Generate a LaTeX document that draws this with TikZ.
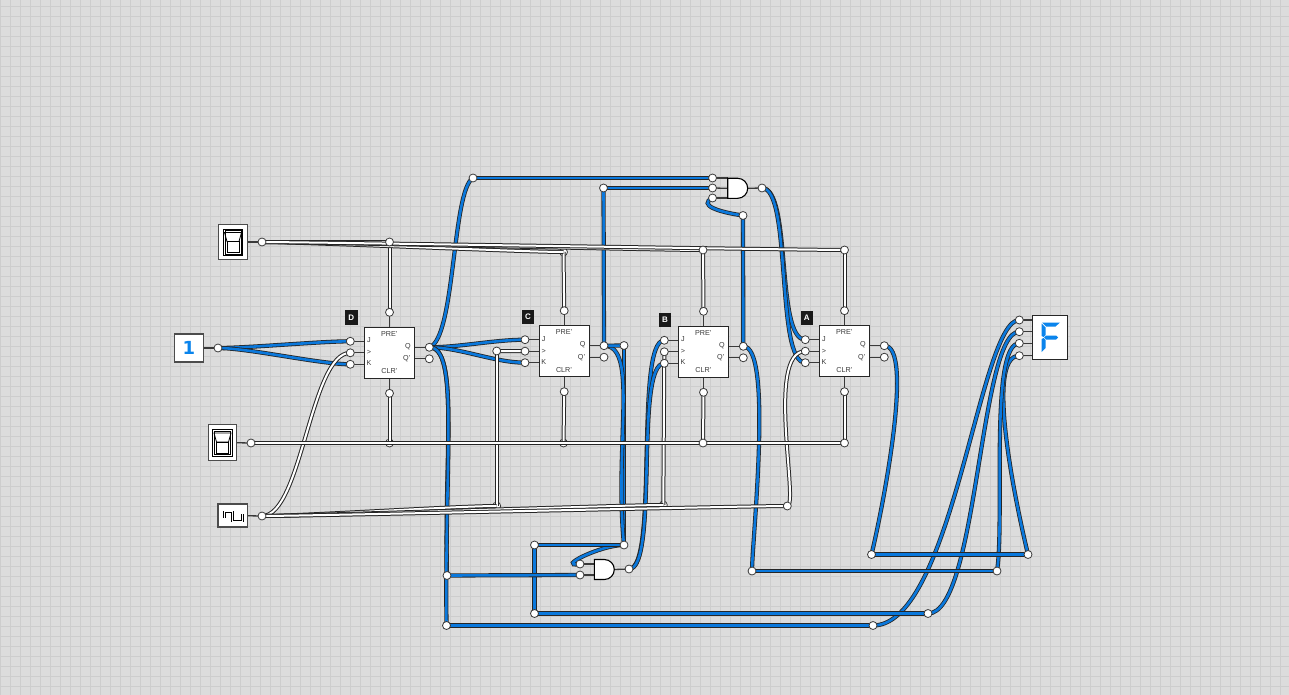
\documentclass[tikz,border=0pt]{standalone}
\usepackage{fontspec}
\setmainfont{Liberation Sans}
\newfontfamily\digitfont{DejaVu Sans}
\usetikzlibrary{positioning}
\pgfdeclarelayer{gridlayer}
\pgfdeclarelayer{lowpins}
\pgfdeclarelayer{wires}
\pgfsetlayers{gridlayer,lowpins,wires,main}
\definecolor{sheet}{HTML}{DCDCDC}
\definecolor{gridgrey}{HTML}{CDCDCD}
\definecolor{wireblue}{HTML}{0A78DC}
\definecolor{segblue}{HTML}{0A84EC}
\definecolor{inkgrey}{HTML}{3A3A3A}
\tikzset{
  gridline/.style={gridgrey, line width=1pt},
  pin/.style={circle, draw=inkgrey, fill=white, line width=.8pt, minimum size=8pt, inner sep=0pt, outer sep=0pt},
  stub/.style={inkgrey, line width=1.3pt},
  bluewire/.style={black!85, line width=.8pt, double=wireblue, double distance=2.6pt},
  whitewire/.style={black!85, line width=1pt, double=white, double distance=2pt},
  ffbox/.style={draw=black!85, fill=white, line width=1pt, minimum width=50pt, minimum height=51pt, anchor=north west, inner sep=0pt, outer sep=0pt},
  iconbox/.style={draw=black!70, fill=white, line width=1.1pt, inner sep=0pt, outer sep=0pt},
  fftext/.style={inkgrey, font=\fontsize{7.2}{8}\selectfont, inner sep=0pt},
  tagbox/.style={fill=black!90, text=white, font=\fontsize{8}{9}\selectfont\bfseries, minimum width=12.5pt, minimum height=14.5pt, inner sep=0pt},
  gatebody/.style={draw=black, fill=white, line width=1.1pt},
  segment/.style={fill=segblue, draw=none},
}
\begin{document}
\begin{tikzpicture}[x=1pt,y=-1pt]
  \useasboundingbox (0,0) rectangle (1289,695);
  \begin{pgfonlayer}{gridlayer}
    \fill[sheet] (0,0) rectangle (1289,695);
    \foreach \gx in {0,...,128} \draw[gridline] (\gx*10+.5,0) -- (\gx*10+.5,695);
    \foreach \gy in {0,...,69} \draw[gridline] (0,\gy*10+6.5) -- (1289,\gy*10+6.5);
  \end{pgfonlayer}

  % flip-flops with their pins and labels
  \foreach \n/\tag/\fx/\fy/\tx/\ty in {d/D/364.3/327.3/351.3/317.5,c/C/539/325.7/528/317,b/B/678.3/326.3/665/320,a/A/819.3/325.7/806.8/318}{
    \node[ffbox] (\n ff) at (\fx,\fy) {};
    \node[tagbox] (\n tag) at (\tx,\ty) {\tag};
    \begin{scope}[shift={(\fx,\fy)}]
      \node[pin] (\n J) at (-14,14) {};
      \node[pin] (\n Ck) at (-14,25.5) {};
      \node[pin] (\n K) at (-14,37) {};
      \node[pin] (\n Q) at (65,20) {};
      \node[pin] (\n Qn) at (65,31.5) {};
      \node[pin] (\n Pre) at (25.2,-15) {};
      \node[pin] (\n Clr) at (25.2,66) {};
      \node[fftext] (\n preT) at (25,6.7) {PRE'};
      \node[fftext] (\n clrT) at (25,44) {CLR'};
      \node[fftext] (\n jT) at (4.7,13) {J};
      \node[fftext] (\n ckT) at (4.7,25.5) {>};
      \node[fftext] (\n kT) at (4.7,36) {K};
      \node[fftext] (\n qT) at (43.7,19) {Q};
      \node[fftext] (\n qnT) at (42.5,31.5) {Q'};
    \end{scope}
    \begin{pgfonlayer}{wires}
      \foreach \p in {J,Ck,K,Q,Qn} \draw[stub] (\n\p.center) -- (\n\p.center -| \n ff.center);
      \foreach \p in {Pre,Clr} \draw[stub] (\n\p.center) -- (\n\p.center |- \n ff.center);
    \end{pgfonlayer}
  }

  % inputs
  \foreach \s/\sx/\sy/\px/\py in {swTop/233/242/262/242,swBot/222.5/442.5/251/443}{
    \node[iconbox, minimum width=28.6pt, minimum height=35.7pt] (\s) at (\sx,\sy) {};
    \node[pin] (\s Pin) at (\px,\py) {};
    \begin{pgfonlayer}{wires}
      \draw[stub] (\s.center) -- (\s Pin.center);
    \end{pgfonlayer}
    \begin{scope}[shift={(\sx,\sy)}]
      \draw[line width=1pt] (-9.7,-13) rectangle (9.7,13.5);
      \draw[line width=.6pt] (-8,-11.5) -- (-8,12) -- (8,12) -- (8,-11.5) -- cycle;
      \draw[line width=.8pt] (-8.5,-9.5) -- (8.5,-9.5) -- (6,-.5) -- (-6,-.5) -- cycle;
      \draw[line width=.9pt] (-6,-.5) rectangle (6,10.5);
    \end{scope}
  }
  \node[iconbox, minimum width=28.5pt, minimum height=28pt] (one) at (189,348) {\digitfont\fontsize{18}{19}\selectfont\bfseries\textcolor{segblue}{1}};
  \node[pin] (onePin) at (218,348) {};
  \node[iconbox, minimum width=29.5pt, minimum height=23pt] (clock) at (232.7,515.5) {};
  \node[pin] (clockPin) at (262,516) {};
  \draw[black, line width=.8pt, double=white, double distance=.8pt] (224.3,518) -- (224.3,511.7) -- (232.5,511.7) -- (232.5,521) -- (242.5,521) -- (242.5,514);

  % gates
  \coordinate (gateTopW) at (727.7,188.3);
  \coordinate (gateTopE) at (747.7,188.3);
  \coordinate (gateBotW) at (594.3,569.5);
  \coordinate (gateBotE) at (614.3,569.5);
  \draw[gatebody] (727.7,178.3) -- ++(10,0) arc (-90:90:10) -- ++(-10,0) -- cycle;
  \draw[gatebody] (594.3,559.5) -- ++(10,0) arc (-90:90:10) -- ++(-10,0) -- cycle;
  \node[pin] (gateTopA) at (712.5,178) {};
  \node[pin] (gateTopB) at (712.5,188) {};
  \node[pin] (gateTopC) at (712.5,198) {};
  \node[pin] (gateTopOut) at (762,188) {};
  \node[pin] (gateBotA) at (580,564) {};
  \node[pin] (gateBotB) at (580,575) {};
  \node[pin] (gateBotOut) at (629,569) {};

  % display
  \node[iconbox, draw=black!85, minimum width=35pt, minimum height=43.7pt] (disp) at (1050.2,337.2) {};
  \node[pin] (seg1) at (1019.3,320) {};
  \node[pin] (seg2) at (1019.3,331.7) {};
  \node[pin] (seg3) at (1019.3,343.3) {};
  \node[pin] (seg4) at (1019.3,355.7) {};
  \fill[segment] (1042,322.5) -- (1060,322.5) -- (1055.5,326.5) -- (1046,326.5) -- cycle;
  \fill[segment] (1041.5,323.5) -- (1045.5,327.5) -- (1045.5,335) -- (1043.5,337) -- (1041.5,336) -- cycle;
  \fill[segment] (1044,337.5) -- (1046,335.5) -- (1056,335.5) -- (1058,337.5) -- (1056,339.5) -- (1046,339.5) -- cycle;
  \fill[segment] (1041.5,339) -- (1043.5,338) -- (1045.5,340) -- (1045.5,348) -- (1041.5,352) -- cycle;

  % junctions
  \node[pin] (jPreD) at (389.5,242) {};
  \node[pin] (jPreB) at (703,250) {};
  \node[pin] (jPreA) at (844.5,250) {};
  \node[pin] (jClrB) at (703,443) {};
  \node[pin] (jClrA) at (844.5,443) {};
  \node[pin] (jClkCup) at (496.7,351) {};
  \node[pin] (jClkA) at (787.3,506) {};
  \node[pin] (jTopLeft) at (473,178) {};
  \node[pin] (jTopMid) at (603.5,188) {};
  \node[pin] (jTopRight) at (743,215.5) {};
  \node[pin] (jCq) at (624,345.5) {};
  \node[pin] (jGateIn) at (624,545) {};
  \node[pin] (jLeft) at (534.5,545) {};
  \node[pin] (jLeftLow) at (534.5,613.5) {};
  \node[pin] (jBack) at (447,575.5) {};
  \node[pin] (jBase) at (446.5,625.5) {};
  \node[pin] (jOutA) at (871.5,554.5) {};
  \node[pin] (jOutA2) at (1028,554.5) {};
  \node[pin] (jOutB) at (752,571) {};
  \node[pin] (jOutB2) at (997,571) {};
  \node[pin] (jOutC) at (928,613.5) {};
  \node[pin] (jOutD) at (873,625.5) {};
  \begin{pgfonlayer}{lowpins}
    \node[pin] (jPreC) at (563.5,252) {};
    \node[pin] (jClrD) at (389.5,443) {};
    \node[pin] (jClrC) at (563.5,443) {};
    \node[pin] (jClkC) at (496.7,506) {};
    \node[pin] (jClkB) at (663.3,505) {};
  \end{pgfonlayer}

  \begin{pgfonlayer}{wires}
    \draw[stub] (one.center) -- (onePin.center);
    \draw[stub] (clock.center) -- (clockPin.center);
    \draw[stub] (gateTopA.center) -- (gateTopA.center -| gateTopW);
    \draw[stub] (gateTopB.center) -- (gateTopW);
    \draw[stub] (gateTopC.center) -- (gateTopC.center -| gateTopW);
    \draw[stub] (gateTopE) -- (gateTopOut.center);
    \draw[stub] (gateBotA.center) -- (gateBotA.center -| gateBotW);
    \draw[stub] (gateBotB.center) -- (gateBotB.center -| gateBotW);
    \draw[stub] (gateBotE) -- (gateBotOut.center);
    \foreach \p in {seg1,seg2,seg3,seg4} \draw[stub] (\p.center) -- (\p.center -| disp.center);

    % blue wires, under the white ones
    \draw[bluewire] (jTopMid.center) -- (cQ.center);
    \draw[bluewire] (jTopRight.center) -- (bQ.center);
    \draw[bluewire] (jCq.center) -- (jGateIn.center);
    \draw[bluewire] (jLeft.center) -- (jLeftLow.center);
    \draw[bluewire] (onePin.center) .. controls +(30,0) and +(-30,0) .. (dJ.center);
    \draw[bluewire] (onePin.center) .. controls +(30,0) and +(-30,0) .. (dK.center);
    \draw[bluewire] (dQ.center) .. controls +(26,-8) and +(-21,12) .. (jTopLeft.center);
    \draw[bluewire] (dQ.center) .. controls +(30,0) and +(-30,0) .. (cJ.center);
    \draw[bluewire] (dQ.center) .. controls +(30,0) and +(-30,0) .. (cK.center);
    \draw[bluewire] (dQ.center) .. controls +(30,0) and +(-3,-120) .. (jBack.center);
    \draw[bluewire] (dQ.center) .. controls +(30,0) and +(-2,-170) .. (jBase.center);
    \draw[bluewire] (jTopRight.center) .. controls +(-25,-3.5) and +(-14.5,7) .. (gateTopC.center);
    \draw[bluewire] (gateTopOut.center) .. controls +(30,0) and +(-30,0) .. (aJ.center);
    \draw[bluewire] (gateTopOut.center) .. controls +(30,0) and +(-30,0) .. (aK.center);
    \draw[bluewire] (cQ.center) .. controls +(35,0) and +(-10,-100) .. (jGateIn.center);
    \draw[bluewire] (jGateIn.center) .. controls +(-24,0) and +(-25,4) .. (gateBotA.center);
    \draw[bluewire] (gateBotOut.center) .. controls +(30,0) and +(-30,0) .. (bJ.center);
    \draw[bluewire] (gateBotOut.center) .. controls +(30,0) and +(-30,0) .. (bK.center);
    \draw[bluewire] (bQ.center) .. controls +(30,0) and +(0,-30) .. (jOutB.center);
    \draw[bluewire] (aQ.center) .. controls +(30,0) and +(12,-50) .. (jOutA.center);
    \draw[bluewire] (jOutA2.center) .. controls +(-12,-50) and +(-35,0) .. (seg4.center);
    \draw[bluewire] (jOutB2.center) .. controls +(8,-50) and +(-30,0) .. (seg3.center);
    \draw[bluewire] (jOutC.center) .. controls +(50,0) and +(-40,0) .. (seg2.center);
    \draw[bluewire] (jOutD.center) .. controls +(80,0) and +(-40,0) .. (seg1.center);
    \draw[bluewire] (jTopLeft.center) -- (gateTopA.center);
    \draw[bluewire] (jTopMid.center) -- (gateTopB.center);
    \draw[bluewire] (cQ.center) -- (jCq.center);
    \draw[bluewire] (jLeft.center) -- (jGateIn.center);
    \draw[bluewire] (jBack.center) -- (gateBotB.center);
    \draw[bluewire] (jBase.center) -- (jOutD.center);
    \draw[bluewire] (jLeftLow.center) -- (jOutC.center);
    \draw[bluewire] (jOutA.center) -- (jOutA2.center);
    \draw[bluewire] (jOutB.center) -- (jOutB2.center);

    % white wires
    \draw[whitewire] (jPreD.center) -- (dPre.center);
    \draw[whitewire] (jPreC.center) -- (cPre.center);
    \draw[whitewire] (jPreB.center) -- (bPre.center);
    \draw[whitewire] (jPreA.center) -- (aPre.center);
    \draw[whitewire] (dClr.center) -- (jClrD.center);
    \draw[whitewire] (cClr.center) -- (jClrC.center);
    \draw[whitewire] (bClr.center) -- (jClrB.center);
    \draw[whitewire] (aClr.center) -- (jClrA.center);
    \draw[whitewire] (jClkC.center) -- (jClkCup.center);
    \draw[whitewire] (jClkCup.center) -- (cCk.center);
    \draw[whitewire] (jClkB.center) -- (bCk.center);
    \draw[whitewire] (jClkA.center) .. controls +(12,0) and +(-40,0) .. (aCk.center);
    \draw[whitewire] (clockPin.center) .. controls +(40,0) and +(-40,0) .. (dCk.center);
    \draw[whitewire] (swTopPin.center) -- (jPreD.center);
    \draw[whitewire] (swTopPin.center) .. controls +(40,0) and +(-40,0) .. (jPreC.center);
    \draw[whitewire] (swTopPin.center) .. controls +(40,0) and +(-40,0) .. (jPreB.center);
    \draw[whitewire] (swTopPin.center) .. controls +(40,0) and +(-40,0) .. (jPreA.center);
    \draw[whitewire] (swBotPin.center) -- (jClrA.center);
    \draw[whitewire] (clockPin.center) .. controls +(40,0) and +(-40,0) .. (jClkC.center);
    \draw[whitewire] (clockPin.center) .. controls +(40,0) and +(-40,0) .. (jClkB.center);
    \draw[whitewire] (clockPin.center) .. controls +(40,0) and +(-40,0) .. (jClkA.center);
  \end{pgfonlayer}
\end{tikzpicture}
\end{document}
